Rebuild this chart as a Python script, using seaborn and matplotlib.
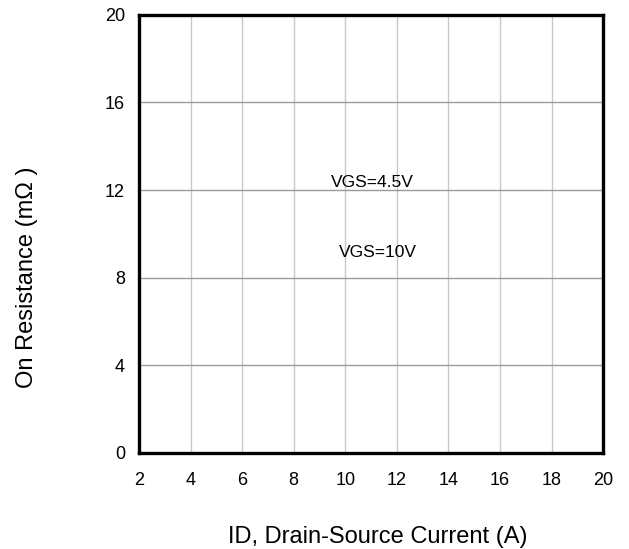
import numpy as np
import pandas as pd
import matplotlib
matplotlib.use("Agg")
import matplotlib.pyplot as plt
import seaborn as sns

# axis ranges / ticks
x_ticks = [2, 4, 6, 8, 10, 12, 14, 16, 18, 20]
y_ticks = [0, 4, 8, 12, 16, 20]

# curve labels (the curves themselves are not drawn in the source image)
labels = ['VGS=4.5V', 'VGS=10V']
label_x = [11.05, 11.25]
label_y = [12.35, 9.15]

sns.set_style('white')
plt.rcParams['font.family'] = ['Liberation Sans', 'DejaVu Sans']

fig = plt.figure(figsize=(6.29, 5.49), dpi=100)
ax = fig.add_axes([0.221, 0.175, 0.738, 0.798])

df = pd.DataFrame({'ID': pd.Series(dtype=float), 'R': pd.Series(dtype=float)})
sns.lineplot(data=df, x='ID', y='R', ax=ax)

ax.set_xlim(x_ticks[0], x_ticks[-1])
ax.set_ylim(y_ticks[0], y_ticks[-1])
ax.set_xticks(x_ticks)
ax.set_yticks(y_ticks)
ax.tick_params(axis='both', length=0, labelsize=13, colors='black')
ax.tick_params(axis='x', pad=13.5)
ax.tick_params(axis='y', pad=10)

ax.xaxis.grid(True, color='#c8c8c8', linewidth=1.0)
ax.yaxis.grid(True, color='#9a9a9a', linewidth=1.0)
ax.set_axisbelow(True)
for s in ax.spines.values():
    s.set_visible(True)
    s.set_color('black')
    s.set_linewidth(2.4)

for t, x, y in zip(labels, label_x, label_y):
    ax.text(x, y, t, ha='center', va='center', fontsize=12.5, color='black')

ax.set_xlabel('ID, Drain-Source Current (A)', fontsize=17, color='black')
ax.set_ylabel('On Resistance (m\u03a9 )', fontsize=17, color='black')
ax.xaxis.set_label_coords(0.515, -0.167)
ax.yaxis.set_label_coords(-0.217, 0.40)

fig.savefig('out.png', dpi=100)
